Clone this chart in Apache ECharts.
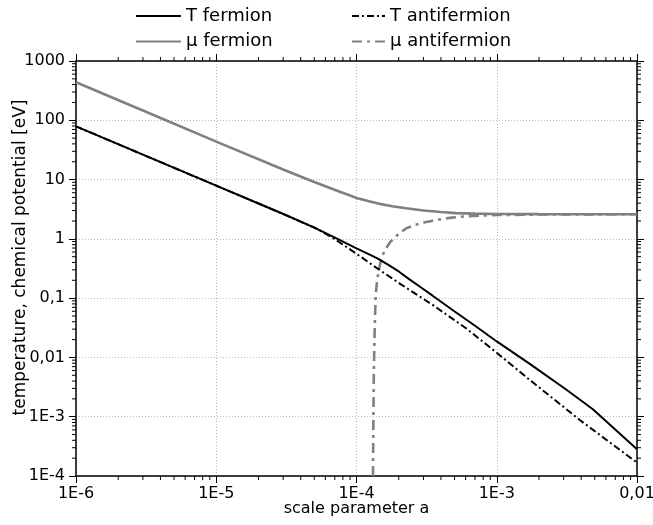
<!DOCTYPE html>
<html>
<head>
<meta charset="utf-8">
<script src="https://cdn.jsdelivr.net/npm/echarts@6/dist/echarts.min.js"></script>
<style>
html,body{margin:0;padding:0;background:#fff;}
#chart{width:653px;height:525px;}
</style>
</head>
<body>
<div id="chart"></div>
<script>
// ---- data ----
const seriesNames = ['T fermion', 'μ fermion', 'T antifermion', 'μ antifermion'];

const tFermion = [
  [1e-6, 79], [3e-6, 26.3], [1e-5, 7.9], [2e-5, 3.95], [3.16e-5, 2.5], [5e-5, 1.55],
  [7.08e-5, 1.04], [1e-4, 0.69], [1.2e-4, 0.565], [1.41e-4, 0.468], [1.7e-4, 0.36],
  [2e-4, 0.282], [2.4e-4, 0.205], [2.82e-4, 0.157], [3.49e-4, 0.11], [5.01e-4, 0.0596],
  [7.08e-4, 0.0335], [1e-3, 0.0186], [1.72e-3, 7.8e-3], [3.16e-3, 2.82e-3],
  [4.87e-3, 1.32e-3], [1e-2, 2.83e-4]
];
const muFermion = [
  [1e-6, 437], [3e-6, 146], [1e-5, 43.7], [3e-5, 14.8], [5e-5, 9.1], [6e-5, 7.7],
  [7.6e-5, 6.25], [9e-5, 5.4], [1e-4, 4.9], [1.25e-4, 4.25], [1.5e-4, 3.85],
  [1.8e-4, 3.55], [2.26e-4, 3.28], [3e-4, 3.0], [4e-4, 2.83], [5.1e-4, 2.72],
  [7e-4, 2.66], [1e-3, 2.63], [2e-3, 2.61], [1e-2, 2.6]
];
const tAntifermion = [
  [1e-6, 79], [3e-6, 26.3], [1e-5, 7.9], [2e-5, 3.95], [3.16e-5, 2.49], [4e-5, 1.95],
  [5.2e-5, 1.49], [7e-5, 0.99], [1e-4, 0.56], [1.4e-4, 0.32], [2.02e-4, 0.178],
  [3.49e-4, 0.077], [6.04e-4, 0.031], [1e-3, 0.012], [1.72e-3, 4.17e-3],
  [3.91e-3, 8.8e-4], [1e-2, 1.68e-4]
];
const muAntifermion = [
  [1.31e-4, 1e-4], [1.32e-4, 0.001], [1.33e-4, 0.006], [1.35e-4, 0.035], [1.37e-4, 0.11],
  [1.4e-4, 0.19], [1.43e-4, 0.26], [1.47e-4, 0.37], [1.52e-4, 0.5], [1.6e-4, 0.66],
  [1.75e-4, 0.9], [2e-4, 1.22], [2.26e-4, 1.5], [2.6e-4, 1.72], [3.13e-4, 1.92],
  [3.8e-4, 2.1], [4.6e-4, 2.26], [6e-4, 2.4], [7.9e-4, 2.48], [1e-3, 2.52],
  [2e-3, 2.57], [5e-3, 2.59], [1e-2, 2.6]
];

// ---- axes ----
const xRange = [1e-6, 1e-2];
const yRange = [1e-4, 1000];
const xTickValues = [1e-6, 1e-5, 1e-4, 1e-3, 1e-2];
const xTickLabels = ['1E-6', '1E-5', '1E-4', '1E-3', '0,01'];
const yTickValues = [1e-4, 1e-3, 1e-2, 1e-1, 1, 10, 100, 1000];
const yTickLabels = ['1E-4', '1E-3', '0,01', '0,1', '1', '10', '100', '1000'];
const minorMultipliers = [2, 3, 4, 5, 6, 7, 8, 9];
const xDecades = [1e-6, 1e-5, 1e-4, 1e-3];
const yDecades = [1e-4, 1e-3, 1e-2, 1e-1, 1, 10, 100];

const xMinor = [];
xDecades.forEach(d => minorMultipliers.forEach(m => xMinor.push([d * m, yRange[0]])));
const yMinor = [];
yDecades.forEach(d => minorMultipliers.forEach(m => yMinor.push([xRange[0], d * m])));

function labelFor(values, labels) {
  return function (v) {
    for (let i = 0; i < values.length; i++) {
      if (Math.abs(Math.log10(v) - Math.log10(values[i])) < 1e-6) return labels[i];
    }
    return '';
  };
}

const FONT = 'DejaVu Sans';
const GRAY = '#808080';
const MINOR_LEN = 4;

const chart = echarts.init(document.getElementById('chart'), null, {renderer: 'canvas'});

const commonAxisLine = {show: true, onZero: false, lineStyle: {color: '#000', width: 1.5}};
const commonTick = {show: true, length: 7, lineStyle: {color: '#000', width: 1}};

const legendCommon = {
  orient: 'vertical', top: 7, padding: 0, itemHeight: 14, itemGap: 7.5,
  itemStyle: {opacity: 0, borderWidth: 0},
  textStyle: {fontFamily: FONT, fontSize: 18, color: '#000'}
};

chart.setOption({
  animation: false,
  backgroundColor: '#fff',
  textStyle: {fontFamily: FONT},
  grid: {left: 76, right: 16, top: 61, bottom: 49, containLabel: false, outerBoundsMode: 'none'},
  legend: [
    Object.assign({}, legendCommon, {data: ['T fermion', 'μ fermion'], left: 135, itemWidth: 45}),
    Object.assign({}, legendCommon, {data: ['T antifermion', 'μ antifermion'], left: 351, itemWidth: 33})
  ],
  xAxis: [
    {
      type: 'log', logBase: 10, min: xRange[0], max: xRange[1], interval: 1, position: 'bottom',
      name: 'scale parameter a', nameLocation: 'middle', nameGap: 25, nameMoveOverlap: false,
      nameTextStyle: {fontFamily: FONT, fontSize: 16, color: '#000'},
      axisLine: commonAxisLine, axisTick: commonTick,
      axisLabel: {fontFamily: FONT, fontSize: 16, color: '#000', margin: 10,
        formatter: labelFor(xTickValues, xTickLabels), showMinLabel: true, showMaxLabel: true},
      splitLine: {show: true, lineStyle: {color: '#b8b8b8', type: [1, 2], width: 1}},
      minorTick: {show: false}
    },
    {
      type: 'log', logBase: 10, min: xRange[0], max: xRange[1], interval: 1, position: 'top',
      axisLine: commonAxisLine, axisTick: commonTick,
      axisLabel: {show: false}, splitLine: {show: false}
    }
  ],
  yAxis: [
    {
      type: 'log', logBase: 10, min: yRange[0], max: yRange[1], interval: 1, position: 'left',
      name: 'temperature, chemical potential [eV]', nameLocation: 'middle', nameGap: 47,
      nameMoveOverlap: false,
      nameTextStyle: {fontFamily: FONT, fontSize: 17, color: '#000', padding: [0, 0, 0, 22]},
      axisLine: commonAxisLine, axisTick: commonTick,
      axisLabel: {fontFamily: FONT, fontSize: 16, color: '#000', margin: 11,
        formatter: labelFor(yTickValues, yTickLabels), showMinLabel: true, showMaxLabel: true},
      splitLine: {show: true, lineStyle: {color: '#b8b8b8', type: [1, 2], width: 1}}
    },
    {
      type: 'log', logBase: 10, min: yRange[0], max: yRange[1], interval: 1, position: 'right',
      axisLine: commonAxisLine, axisTick: commonTick,
      axisLabel: {show: false}, splitLine: {show: false}
    }
  ],
  series: [
    {
      name: 'T fermion', type: 'line', data: tFermion, symbol: 'none', showSymbol: false,
      lineStyle: {color: '#000', width: 2}, itemStyle: {color: '#000'}, z: 4
    },
    {
      name: 'μ fermion', type: 'line', data: muFermion, symbol: 'none', showSymbol: false,
      lineStyle: {color: GRAY, width: 2.6}, itemStyle: {color: GRAY}, z: 3
    },
    {
      name: 'T antifermion', type: 'line', data: tAntifermion, symbol: 'none', showSymbol: false,
      lineStyle: {color: '#000', width: 2, type: [7, 3, 2, 3]}, itemStyle: {color: '#000'}, z: 4
    },
    {
      name: 'μ antifermion', type: 'line', data: muAntifermion, symbol: 'none', showSymbol: false,
      lineStyle: {color: GRAY, width: 2.6, type: [10, 5, 3, 5]}, itemStyle: {color: GRAY}, z: 3
    },
    {
      name: 'xMinorTicks', type: 'custom', data: xMinor, silent: true, clip: false, z: 10,
      renderItem: function (params, api) {
        const v = api.value(0);
        const b = api.coord([v, yRange[0]]);
        const t = api.coord([v, yRange[1]]);
        return {type: 'group', children: [
          {type: 'line', shape: {x1: b[0], y1: b[1], x2: b[0], y2: b[1] + MINOR_LEN}, style: {stroke: '#000', lineWidth: 1}},
          {type: 'line', shape: {x1: t[0], y1: t[1], x2: t[0], y2: t[1] - MINOR_LEN}, style: {stroke: '#000', lineWidth: 1}}
        ]};
      }
    },
    {
      name: 'yMinorTicks', type: 'custom', data: yMinor, silent: true, clip: false, z: 10,
      renderItem: function (params, api) {
        const v = api.value(1);
        const l = api.coord([xRange[0], v]);
        const r = api.coord([xRange[1], v]);
        return {type: 'group', children: [
          {type: 'line', shape: {x1: l[0], y1: l[1], x2: l[0] - MINOR_LEN, y2: l[1]}, style: {stroke: '#000', lineWidth: 1}},
          {type: 'line', shape: {x1: r[0], y1: r[1], x2: r[0] + MINOR_LEN, y2: r[1]}, style: {stroke: '#000', lineWidth: 1}}
        ]};
      }
    }
  ]
});
</script>
</body>
</html>
